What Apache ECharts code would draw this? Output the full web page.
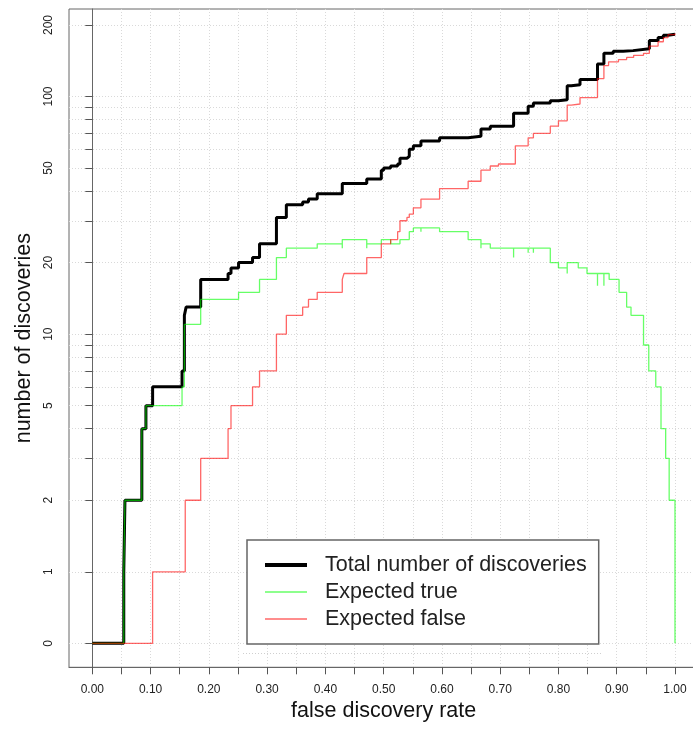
<!DOCTYPE html>
<html>
<head>
<meta charset="utf-8">
<script src="https://cdn.jsdelivr.net/npm/echarts@6/dist/echarts.min.js"></script>
<style>
html,body{margin:0;padding:0;background:#ffffff;}
#chart{width:693px;height:738px;}
</style>
</head>
<body>
<div id="chart"></div>
<script>
// ---------------- data ----------------
// Total number of discoveries (step function: value holds from x[i] to x[i+1])
const totalX = [0, 0.054, 0.056, 0.085, 0.092, 0.1035, 0.154, 0.158, 0.161, 0.186,
  0.233, 0.238, 0.251, 0.275, 0.287, 0.316, 0.333, 0.361, 0.371, 0.386,
  0.429, 0.471, 0.496, 0.5, 0.512, 0.524, 0.528, 0.54, 0.544, 0.551,
  0.564, 0.596, 0.645, 0.667, 0.683, 0.723, 0.748, 0.757, 0.786, 0.8,
  0.815, 0.822, 0.837, 0.867, 0.878, 0.894, 0.911, 0.928, 0.956, 0.971,
  0.98, 0.988, 1.0];
const totalY = [0, 1, 2, 4, 5, 6, 7, 12, 13, 17,
  18, 19, 20, 21, 24, 31, 35, 36, 37, 39,
  43, 45, 49, 50, 51, 52, 55, 56, 60, 62,
  65, 67, 68, 73, 75, 85, 91, 94, 96, 97,
  111, 112, 118, 137, 152, 155, 156, 159, 172, 177,
  181, 183, 184];

// Expected true
const trueX = [0, 0.054, 0.056, 0.085, 0.092, 0.154, 0.158, 0.186, 0.251, 0.287,
  0.316, 0.333, 0.386, 0.429, 0.429, 0.471, 0.471, 0.496, 0.512, 0.528,
  0.544, 0.551, 0.564, 0.564, 0.596, 0.645, 0.667, 0.667, 0.683, 0.723,
  0.723, 0.748, 0.748, 0.757, 0.757, 0.786, 0.8, 0.815, 0.815, 0.834,
  0.849, 0.867, 0.867, 0.878, 0.878, 0.887, 0.904, 0.917, 0.9245, 0.946,
  0.955, 0.967, 0.976, 0.984, 0.99, 1.0];
const trueY = [0, 1, 2, 4, 5, 6, 11, 14, 15, 17,
  21, 23, 24, 23, 25, 23, 24, 25, 24, 25,
  27, 28, 27, 28, 27, 25, 23, 24, 23, 21,
  23, 22, 23, 22, 23, 20, 19, 18, 20, 19,
  18, 16, 18, 16, 18, 17, 15, 13, 12, 9,
  7, 6, 4, 3, 2, 0];

// Expected false
const falseX = [0, 0.1035, 0.1595, 0.186, 0.233, 0.238, 0.275, 0.287, 0.316, 0.333,
  0.361, 0.371, 0.386, 0.429, 0.432, 0.471, 0.496, 0.512, 0.524, 0.528,
  0.54, 0.544, 0.551, 0.564, 0.596, 0.645, 0.667, 0.683, 0.697, 0.726,
  0.748, 0.757, 0.786, 0.8, 0.815, 0.822, 0.837, 0.867, 0.878, 0.886,
  0.903, 0.917, 0.929, 0.946, 0.956, 0.971, 0.98, 0.988, 1.0];
const falseY = [0, 1, 2, 3, 4, 5, 6, 7, 10, 12,
  13, 14, 15, 17, 18, 21, 24, 25, 27, 30,
  31, 32, 34, 37, 41, 44, 49, 51, 52, 62,
  67, 70, 75, 79, 92, 93, 99, 119, 135, 140,
  143, 146, 149, 152, 163, 170, 177, 182, 184];

// axis ticks / labels
const xLabelValues = [0, 0.1, 0.2, 0.3, 0.4, 0.5, 0.6, 0.7, 0.8, 0.9, 1.0];
const xTickValues = [0, 0.05, 0.1, 0.15, 0.2, 0.25, 0.3, 0.35, 0.4, 0.45, 0.5,
  0.55, 0.6, 0.65, 0.7, 0.75, 0.8, 0.85, 0.9, 0.95, 1.0];
const yLabelValues = [0, 1, 2, 5, 10, 20, 50, 100, 200];
const yTickValues = [0, 1, 2, 3, 4, 5, 6, 7, 8, 9, 10, 20, 30, 40, 50, 60, 70, 80, 90, 100, 200];

const seriesNames = ['Total number of discoveries', 'Expected true', 'Expected false'];
const xAxisTitle = 'false discovery rate';
const yAxisTitle = 'number of discoveries';

// On the log axis a count of 0 is drawn where 0.5 would be (as in the original)
const ZERO_AT = 0.5;
const pos = v => (v === 0 ? ZERO_AT : v);
const pairs = (xs, ys) => xs.map((x, i) => [x, pos(ys[i])]);

// ---------------- chart ----------------
const chart = echarts.init(document.getElementById('chart'), null, {renderer: 'canvas'});
const FONT = 'Liberation Sans, Arial, Helvetica, sans-serif';
const gridLine = {show: true, lineStyle: {color: '#d9d9d9', type: [1, 2], width: 1}};
const BLACK = '#000000', GREEN = 'rgba(0,255,0,0.6)', RED = 'rgba(255,0,0,0.6)';

const option = {
  animation: false,
  backgroundColor: '#ffffff',
  textStyle: {fontFamily: FONT},
  grid: {
    left: 69, top: 9, width: 629.3, height: 658.3,
    containLabel: false, outerBoundsMode: 'none',
    show: true, borderColor: '#666666', borderWidth: 1, backgroundColor: 'transparent'
  },
  xAxis: {
    type: 'value', min: -0.04, max: 1.04,
    name: xAxisTitle, nameLocation: 'middle', nameGap: 32,
    nameTextStyle: {fontSize: 21.5, color: '#111', fontFamily: FONT},
    axisLine: {show: true, onZero: false, lineStyle: {color: '#666666', width: 1}},
    axisTick: {show: true, inside: false, length: 7, customValues: xTickValues,
      lineStyle: {color: '#555555', width: 1}},
    axisLabel: {customValues: xLabelValues, margin: 16, fontSize: 12, color: '#222',
      fontFamily: FONT, formatter: v => v.toFixed(2)},
    splitLine: gridLine
  },
  yAxis: {
    type: 'log', logBase: 10, min: 0.3963, max: 233.5,
    name: yAxisTitle, nameLocation: 'middle', nameGap: 34, nameRotate: 90,
    nameTextStyle: {fontSize: 21.5, color: '#111', fontFamily: FONT},
    axisLine: {show: true, lineStyle: {color: '#666666', width: 1}},
    axisTick: {show: true, inside: false, length: 7, customValues: yTickValues.map(pos),
      lineStyle: {color: '#555555', width: 1}},
    axisLabel: {customValues: yLabelValues.map(pos), rotate: 90, margin: 14, fontSize: 12,
      color: '#222', fontFamily: FONT,
      formatter: v => (v < 0.75 ? '0' : String(Math.round(v)))},
    splitLine: gridLine,
    minorTick: {show: false},
    minorSplitLine: {show: false}
  },
  legend: {
    orient: 'vertical', left: 247, top: 540,
    padding: [14, 12, 14, 18],
    itemWidth: 42, itemHeight: 14, itemGap: 5,
    symbolKeepAspect: true,
    borderColor: '#666666', borderWidth: 1.5, backgroundColor: '#ffffff',
    textStyle: {fontSize: 21.5, color: '#222', fontFamily: FONT, padding: [0, 0, 0, 13]},
    data: [
      {name: seriesNames[0], icon: 'path://M0,0H42V4H0Z', itemStyle: {color: BLACK}},
      {name: seriesNames[1], icon: 'path://M0,0H42V1.6H0Z', itemStyle: {color: GREEN}},
      {name: seriesNames[2], icon: 'path://M0,0H42V1.6H0Z', itemStyle: {color: RED}}
    ]
  },
  graphic: [{
    type: 'line', z: -1, silent: true,
    shape: {x1: 243, y1: 653.5, x2: 603, y2: 653.5},
    style: {stroke: '#cfcfcf', lineWidth: 1, lineDash: [1, 2]}
  }],
  series: [
    {
      name: seriesNames[0], type: 'line', step: 'end', symbol: 'none',
      data: pairs(totalX, totalY),
      lineStyle: {color: BLACK, width: 3},
      itemStyle: {color: BLACK},
      z: 2
    },
    {
      name: seriesNames[1], type: 'line', step: 'end', symbol: 'none',
      data: pairs(trueX, trueY),
      lineStyle: {color: GREEN, width: 1.3},
      itemStyle: {color: GREEN},
      z: 3
    },
    {
      name: seriesNames[2], type: 'line', step: 'end', symbol: 'none',
      data: pairs(falseX, falseY),
      lineStyle: {color: RED, width: 1.3},
      itemStyle: {color: RED},
      z: 4
    }
  ]
};
chart.setOption(option);
</script>
</body>
</html>
